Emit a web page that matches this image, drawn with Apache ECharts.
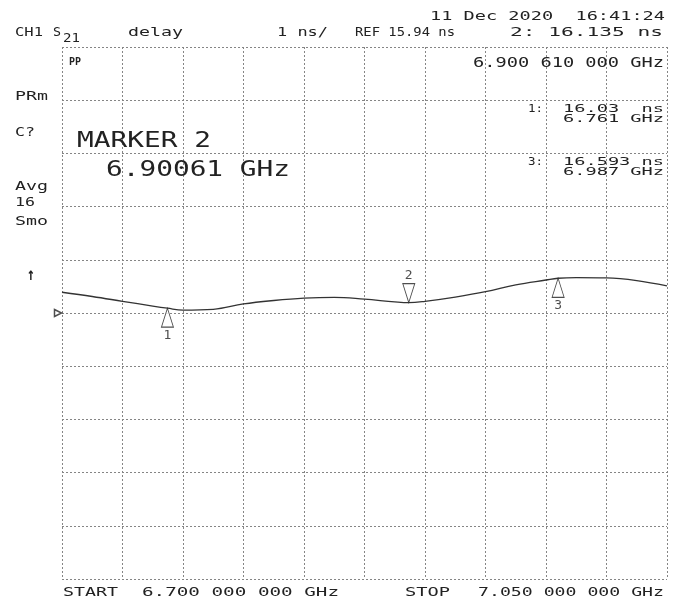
<!DOCTYPE html>
<html>
<head>
<meta charset="utf-8">
<script src="https://cdn.jsdelivr.net/npm/echarts@6/dist/echarts.min.js"></script>
<style>
  html, body { margin: 0; padding: 0; background: #fff; }
  #main { width: 679px; height: 602px; }
</style>
</head>
<body>
<div id="main"></div>
<script>
// trace: frequency (GHz) and delay (ns)
var freqs = [6.7000, 6.7175, 6.735, 6.7525, 6.761, 6.770, 6.7875, 6.805, 6.8225, 6.840, 6.8575, 6.875,
             6.8925, 6.90061, 6.910, 6.9275, 6.945, 6.9625, 6.980, 6.987, 6.9975, 7.015, 7.0325, 7.050];
var delays = [16.33, 16.25, 16.16, 16.07, 16.03, 15.995, 16.01, 16.11, 16.175, 16.22, 16.235, 16.20,
              16.15, 16.135, 16.16, 16.24, 16.34, 16.47, 16.56, 16.593, 16.605, 16.60, 16.55, 16.45];

// markers
var markerNames = ['1', '2', '3'];
var markerFreqs = [6.761, 6.90061, 6.987];
var markerDelays = [16.03, 16.135, 16.593];

var startFreq = 6.700, stopFreq = 7.050;
var refValue = 15.94, scaleDiv = 1;

var chart = echarts.init(document.getElementById('main'));

var measure = document.createElement('canvas').getContext('2d');
var FONT = '"DejaVu Sans Mono"';

// text stretched horizontally so it fills x1..x2, like the plotter font
function txt(s, x1, x2, yc, capH, weight) {
  var size = capH / 0.73;
  var font = (weight ? weight + ' ' : '') + size.toFixed(1) + 'px ' + FONT;
  measure.font = font;
  var w = measure.measureText(s).width;
  return {
    type: 'text', x: x1, y: yc, scaleX: (x2 - x1) / w, z: 10,
    style: { text: s, font: font, fill: '#222', align: 'left', verticalAlign: 'middle' }
  };
}

var traceData = freqs.map(function (f, i) { return [f, delays[i]]; });

var markerData = markerFreqs.map(function (f, i) {
  var active = i === 1;
  return {
    value: [f, markerDelays[i]],
    name: markerNames[i],
    symbolRotate: active ? 180 : 0,
    symbolOffset: [0, active ? '-50%' : '50%'],
    label: { position: active ? 'top' : 'bottom', distance: 1 }
  };
});

var texts = [
  txt('11 Dec 2020  16:41:24', 430, 665, 16.5, 8.5),
  txt('CH1', 15, 43, 33, 8.5),
  txt('S', 53, 61, 33, 8.5),
  txt('21', 63, 80, 38.5, 8.5),
  txt('delay', 128, 183, 33, 8.5),
  txt('1 ns/', 277, 328, 33, 8.5),
  txt('REF 15.94 ns', 355, 455, 33, 8.5),
  txt('2: 16.135 ns', 510, 663, 33, 8.5),
  txt('6.900 610 000 GHz', 473, 664, 63, 10),
  txt('PP', 69, 81, 62, 8, 'bold'),
  txt('PRm', 15, 48, 96.5, 9),
  txt('C?', 15, 35, 132.5, 9),
  txt('MARKER 2', 77, 211, 141, 16),
  txt('6.90061 GHz', 106, 290, 170, 16),
  txt('Avg', 15, 48, 186.5, 9),
  txt('16', 15, 35, 203, 9),
  txt('Smo', 15, 48, 222, 9),
  txt('1:', 528, 543, 109, 8),
  txt('16.03  ns', 563, 664, 109, 8),
  txt('6.761 GHz', 563, 664, 119, 8),
  txt('3:', 528, 543, 162.5, 8),
  txt('16.593 ns', 563, 664, 162.5, 8),
  txt('6.987 GHz', 563, 664, 172, 8),
  txt('\u2191', 27, 35, 275, 13, 'bold'),
  txt('START', 63, 118, 592.5, 9),
  txt('6.700 000 000 GHz', 142, 339, 592.5, 9),
  txt('STOP', 405, 450, 592.5, 9),
  txt('7.050 000 000 GHz', 478, 664, 592.5, 9)
];

var gridLine = { show: true, lineStyle: { color: '#858585', width: 1, type: [2, 2] } };

var option = {
  backgroundColor: '#fff',
  animation: false,
  grid: { left: 62, right: 12, top: 47, bottom: 23 },
  xAxis: {
    type: 'value',
    min: startFreq,
    max: stopFreq,
    interval: (stopFreq - startFreq) / 10,
    axisLine: { show: false },
    axisTick: { show: false },
    axisLabel: { show: false },
    splitLine: gridLine
  },
  yAxis: {
    type: 'value',
    min: refValue - 5 * scaleDiv,
    max: refValue + 5 * scaleDiv,
    interval: scaleDiv,
    axisLine: { show: false },
    axisTick: { show: false },
    axisLabel: { show: false },
    splitLine: gridLine
  },
  graphic: texts,
  series: [
    {
      name: 'delay',
      type: 'line',
      data: traceData,
      smooth: 0.4,
      symbol: 'none',
      lineStyle: { color: '#333', width: 1.3 },
      z: 3
    },
    {
      name: 'markers',
      type: 'scatter',
      data: markerData,
      symbol: 'triangle',
      symbolSize: [12, 19],
      itemStyle: { color: '#fff', borderColor: '#222', borderWidth: 1 },
      label: {
        show: true,
        formatter: '{b}',
        color: '#222',
        fontFamily: FONT,
        fontSize: 13
      },
      z: 5
    },
    {
      name: 'ref',
      type: 'scatter',
      data: [[startFreq, refValue]],
      symbol: 'path://M0,0 L10,5 L0,10 Z',
      symbolSize: [7, 7],
      symbolOffset: [-4, 0],
      clip: false,
      itemStyle: { color: '#fff', borderColor: '#222', borderWidth: 1.5 },
      z: 6
    }
  ]
};

chart.setOption(option);
</script>
</body>
</html>
